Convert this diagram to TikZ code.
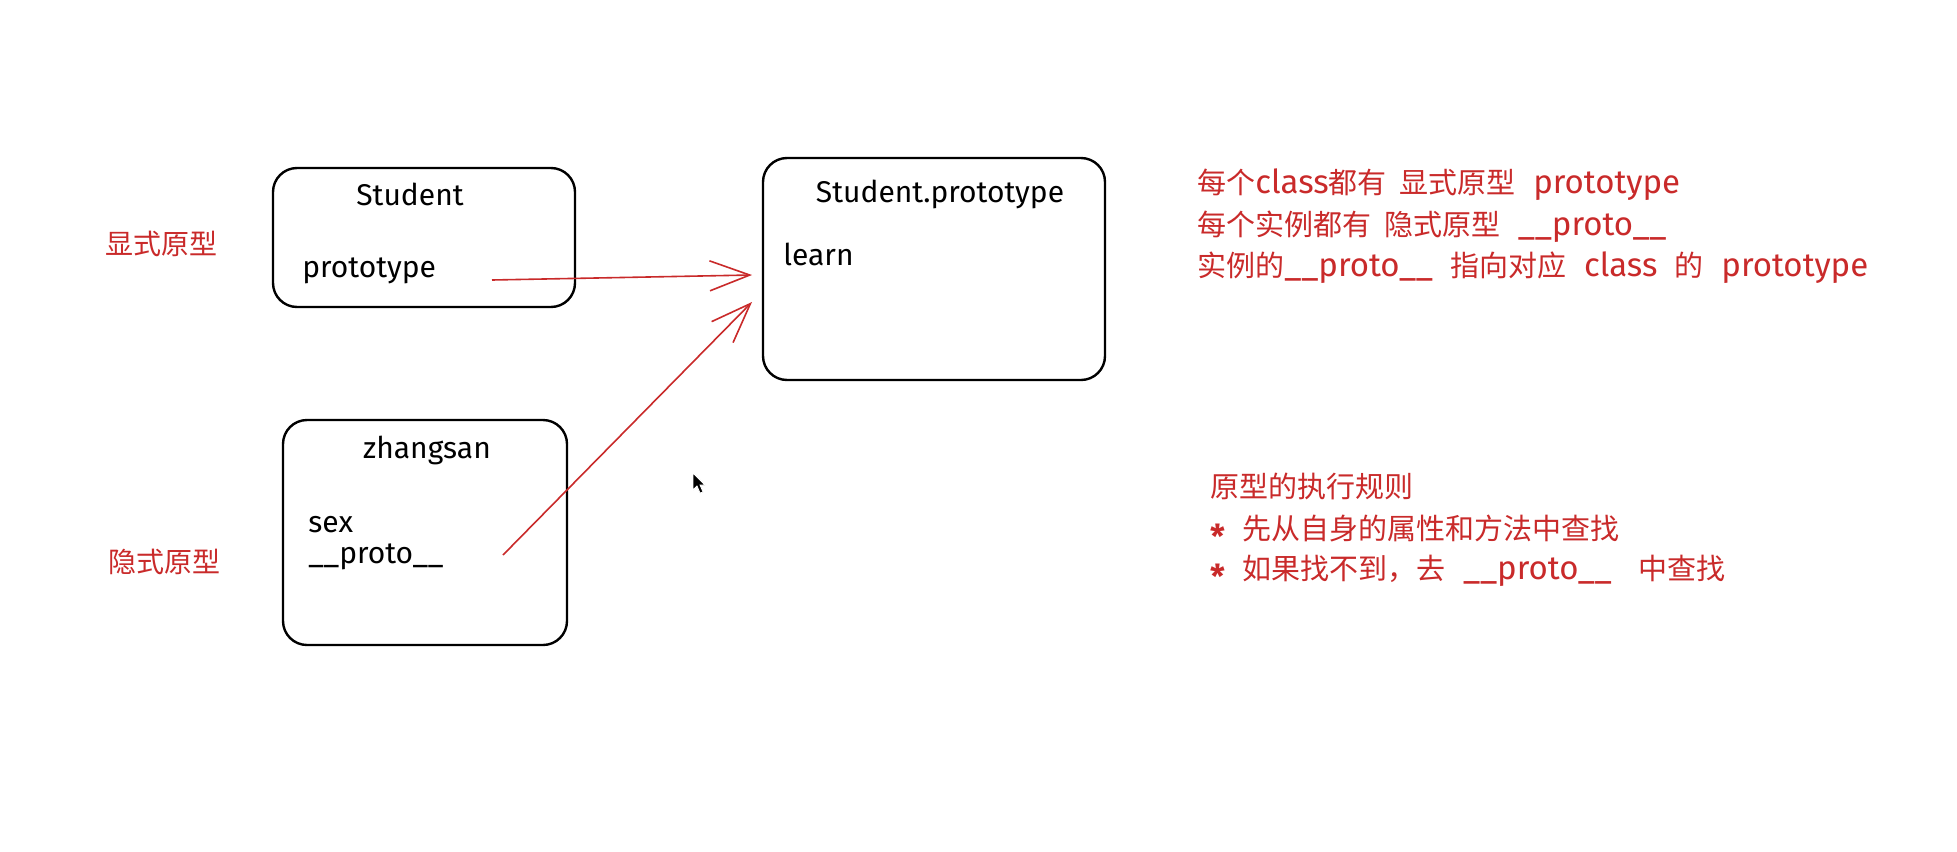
\documentclass[tikz,border=0pt]{standalone}
\usepackage{fontspec}
\setmainfont{Fira Sans}
\newfontfamily\cjk{Noto Sans CJK SC}
\usetikzlibrary{arrows.meta}
\definecolor{exred}{RGB}{201,42,42}
\newcommand\zh[1]{{\cjk\fontsize{14.5}{17}\selectfont #1}}
\newcommand\bul{\raisebox{-0.55ex}{\bfseries *}}
\begin{document}
\begin{tikzpicture}[x=0.5pt,y=-0.5pt,
  box/.style={draw=black, line width=1.2pt, rounded corners=12pt, inner sep=0pt},
  btxt/.style={font=\fontsize{15}{18}\selectfont, inner sep=0pt},
  rtxt/.style={text=exred, font=\fontsize{16.5}{19}\selectfont, inner sep=0pt, anchor=base west},
  lbl/.style={text=exred, font=\cjk\fontsize{14}{16}\selectfont, inner sep=0pt, anchor=base west},
  conn/.style={draw=exred, line width=0.8pt, -{Straight Barb[length=20pt,width=15pt,line width=0.8pt]}}
]
\useasboundingbox (0,0) rectangle (1957,851);
\fill[white] (0,0) rectangle (1957,851);

% boxes
\node[box, minimum width=151pt, minimum height=69.5pt] (student) at (424,237.5) {};
\node[box, minimum width=142pt, minimum height=112.5pt] (zhang) at (425,532.5) {};
\node[box, minimum width=171pt, minimum height=111pt] (proto) at (934,269) {};

% box texts
\node[btxt, anchor=base] (studentT) at (410,205) {Student};
\node[btxt, anchor=base west] (studentP) at (302,277) {prototype};
\node[btxt, anchor=base] (zhangT) at (427,458) {zhangsan};
\node[btxt, anchor=base west] (zhangS) at (308,532) {sex};
\node[btxt, anchor=base west] (zhangP) at (308,563) {\_\_proto\_\_};
\node[btxt, anchor=base] (protoT) at (940,202) {Student.prototype};
\node[btxt, anchor=base west] (protoL) at (783,265) {learn};

% left labels
\node[lbl] (explicit) at (105,254) {显式原型};
\node[lbl] (implicit) at (108,572) {隐式原型};

% connectors
\coordinate (a1s) at (492,280);
\coordinate (a1e) at (752,275);
\coordinate (a2s) at (503,555);
\coordinate (a2e) at (752,302);
\draw[conn] (a1s) -- (a1e);
\draw[conn] (a2s) -- (a2e);

% right texts top
\node[rtxt] (t1) at (1197,193) {\zh{每个}class\zh{都有\ \ 显式原型}\ \ prototype};
\node[rtxt] (t2) at (1197,235) {\zh{每个实例都有\ \ 隐式原型}\ \ \_\_proto\_\_};
\node[rtxt] (t3) at (1197,276) {\zh{实例的}\_\_proto\_\_\ \ \zh{指向对应}\ \ class\ \ \zh{的}\ \ prototype};

% right texts bottom
\node[rtxt] (r0) at (1210,497) {\zh{原型的执行规则}};
\node[rtxt] (r1) at (1210,539) {\bul\ \ \zh{先从自身的属性和方法中查找}};
\node[rtxt] (r2) at (1210,579) {\bul\ \ \zh{如果找不到，去}\ \ \_\_proto\_\_\ \ \ \zh{中查找}};

% mouse cursor
\filldraw[fill=black, draw=white, line width=0.4pt] (693,473) -- (693,490) -- (697,486) -- (700,493) -- (703,492) -- (700,485) -- (705,485) -- cycle;
\end{tikzpicture}
\end{document}
